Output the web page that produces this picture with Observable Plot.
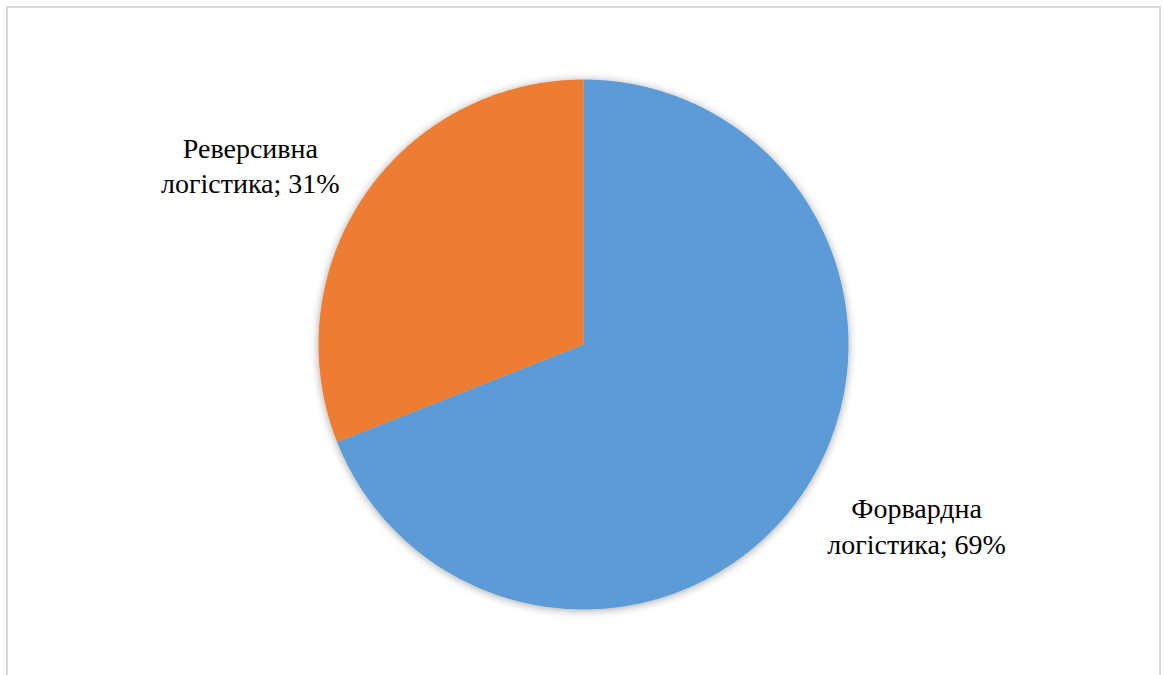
<!DOCTYPE html>
<html><head><meta charset="utf-8">
<script src="https://cdn.jsdelivr.net/npm/d3@7"></script>
<script src="https://cdn.jsdelivr.net/npm/@observablehq/plot@0.6"></script>
<style>
html,body{margin:0;padding:0;background:#fff;overflow:hidden;width:1164px;height:675px;}
#frame{position:absolute;left:6px;top:6px;width:1155px;height:720px;border:2px solid #d9d9d9;box-sizing:border-box;}
#chart{position:absolute;left:0;top:0;}
</style></head><body>
<div id="frame"></div><div id="chart"></div>
<script>
// Data
const categories = ["Форвардна\nлогістика", "Реверсивна\nлогістика"];
const values = [69, 31];
const colors = ["#5B9BD5", "#ED7D31"];

// Build slice outlines (unit circle, angle clockwise from 12 o'clock)
const total = d3.sum(values);
const pts = [];
const labels = [];
let acc = 0;
categories.forEach((c, i) => {
  const a0 = acc / total * 2 * Math.PI;
  acc += values[i];
  const a1 = acc / total * 2 * Math.PI;
  pts.push({cat: c, x: 0, y: 0});
  const n = Math.max(2, Math.ceil((a1 - a0) / (Math.PI / 360)));
  for (let k = 0; k <= n; k++) {
    const a = a0 + (a1 - a0) * k / n;
    pts.push({cat: c, x: Math.sin(a), y: Math.cos(a)});
  }
  const am = (a0 + a1) / 2;
  labels.push({
    x: Math.sin(am) * 1.52,
    y: Math.cos(am) * 1.21,
    text: c + "; " + Math.round(values[i] / total * 100) + "%"
  });
});

const plot = Plot.plot({
  width: 1164,
  height: 675,
  marginLeft: 318,
  marginRight: 316,
  marginTop: 79,
  marginBottom: 66,
  x: {domain: [-1, 1], axis: null},
  y: {domain: [-1, 1], axis: null},
  color: {domain: categories, range: colors},
  style: {background: "transparent", overflow: "visible"},
  marks: [
    Plot.line(pts, {x: "x", y: "y", z: "cat", fill: "cat", stroke: null, curve: "linear-closed", className: "slices"}),
    Plot.text(labels, {
      x: "x", y: "y", text: "text",
      fontFamily: "'Times New Roman', 'Liberation Serif', serif",
      fontSize: 28, lineHeight: 1.27, fill: "#000",
      textAnchor: "middle", lineAnchor: "middle"
    })
  ]
});

// soft shadow around the pie
const ns = "http://www.w3.org/2000/svg";
const defs = document.createElementNS(ns, "defs");
defs.innerHTML = '<filter id="pieShadow" x="-20%" y="-20%" width="140%" height="140%"><feDropShadow dx="0" dy="1" stdDeviation="4" flood-color="#000" flood-opacity="0.35"/></filter>';
plot.insertBefore(defs, plot.firstChild);
plot.querySelectorAll("g.slices").forEach(g => g.setAttribute("filter", "url(#pieShadow)"));

document.getElementById("chart").appendChild(plot);
</script>
</body></html>
